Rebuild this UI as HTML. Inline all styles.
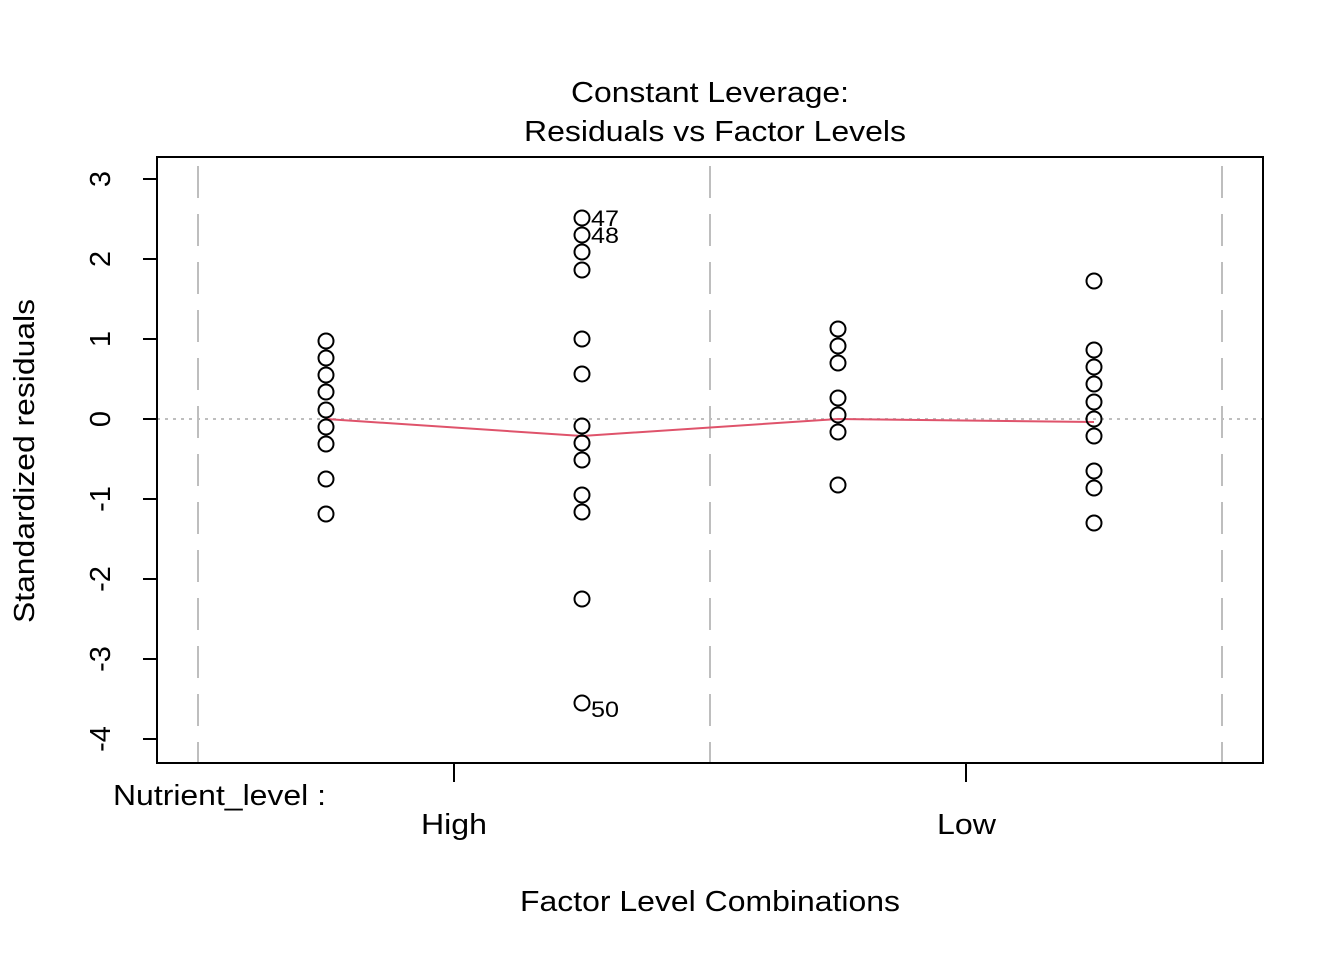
<!DOCTYPE html>
<html><head><style>body{margin:0;background:#fff}svg{display:block}text{font-family:"Liberation Sans",Arial,sans-serif;fill:#000}</style></head>
<body>
<svg width="1344" height="960" viewBox="0 0 1344 960" xmlns="http://www.w3.org/2000/svg">
<text x="571" y="102" font-size="29" textLength="278" lengthAdjust="spacingAndGlyphs">Constant Leverage:</text>
<text x="524" y="141" font-size="29" textLength="382" lengthAdjust="spacingAndGlyphs">Residuals vs Factor Levels</text>
<g stroke="#bebebe" stroke-width="2" stroke-dasharray="32,16">
<line x1="198" y1="166" x2="198" y2="763"/><line x1="710" y1="166" x2="710" y2="763"/><line x1="1222" y1="166" x2="1222" y2="763"/>
</g>
<line x1="157" y1="419" x2="1263" y2="419" stroke="#bebebe" stroke-width="2" stroke-dasharray="3,5"/>
<rect x="157" y="157" width="1106" height="606" fill="none" stroke="#000" stroke-width="2"/>
<g stroke="#000" stroke-width="2">
<line x1="143" y1="179" x2="157" y2="179"/><line x1="143" y1="259" x2="157" y2="259"/><line x1="143" y1="339" x2="157" y2="339"/><line x1="143" y1="419" x2="157" y2="419"/><line x1="143" y1="499" x2="157" y2="499"/><line x1="143" y1="579" x2="157" y2="579"/><line x1="143" y1="659" x2="157" y2="659"/><line x1="143" y1="739" x2="157" y2="739"/>
<line x1="454" y1="763" x2="454" y2="782"/><line x1="966" y1="763" x2="966" y2="782"/>
</g>
<g font-size="29" text-anchor="middle">
<text transform="translate(110,179) rotate(-90)">3</text>
<text transform="translate(110,259) rotate(-90)">2</text>
<text transform="translate(110,339) rotate(-90)">1</text>
<text transform="translate(110,419) rotate(-90)">0</text>
<text transform="translate(110,499) rotate(-90)">-1</text>
<text transform="translate(110,579) rotate(-90)">-2</text>
<text transform="translate(110,659) rotate(-90)">-3</text>
<text transform="translate(110,739) rotate(-90)">-4</text>
</g>
<g font-size="29">
<text transform="translate(34,623) rotate(-90)" textLength="324" lengthAdjust="spacingAndGlyphs">Standardized residuals</text>
<text x="421" y="834" textLength="66" lengthAdjust="spacingAndGlyphs">High</text>
<text x="937" y="834" textLength="59" lengthAdjust="spacingAndGlyphs">Low</text>
<text x="520" y="911" textLength="380" lengthAdjust="spacingAndGlyphs">Factor Level Combinations</text>
<text x="113" y="805" textLength="213" lengthAdjust="spacingAndGlyphs">Nutrient_level :</text>
</g>
<polyline points="326,419 582,436 838,419 1094,422" fill="none" stroke="#DF536B" stroke-width="2"/>
<g fill="none" stroke="#000" stroke-width="2">
<circle cx="326" cy="341" r="7.5"/><circle cx="326" cy="358" r="7.5"/><circle cx="326" cy="375" r="7.5"/><circle cx="326" cy="392" r="7.5"/><circle cx="326" cy="410" r="7.5"/><circle cx="326" cy="427" r="7.5"/><circle cx="326" cy="444" r="7.5"/><circle cx="326" cy="479" r="7.5"/><circle cx="326" cy="514" r="7.5"/>
<circle cx="582" cy="218" r="7.5"/><circle cx="582" cy="235" r="7.5"/><circle cx="582" cy="252" r="7.5"/><circle cx="582" cy="270" r="7.5"/><circle cx="582" cy="339" r="7.5"/><circle cx="582" cy="374" r="7.5"/><circle cx="582" cy="426" r="7.5"/><circle cx="582" cy="443" r="7.5"/><circle cx="582" cy="460" r="7.5"/><circle cx="582" cy="495" r="7.5"/><circle cx="582" cy="512" r="7.5"/><circle cx="582" cy="599" r="7.5"/><circle cx="582" cy="703" r="7.5"/>
<circle cx="838" cy="329" r="7.5"/><circle cx="838" cy="346" r="7.5"/><circle cx="838" cy="363" r="7.5"/><circle cx="838" cy="398" r="7.5"/><circle cx="838" cy="415" r="7.5"/><circle cx="838" cy="432" r="7.5"/><circle cx="838" cy="485" r="7.5"/>
<circle cx="1094" cy="281" r="7.5"/><circle cx="1094" cy="350" r="7.5"/><circle cx="1094" cy="367" r="7.5"/><circle cx="1094" cy="384" r="7.5"/><circle cx="1094" cy="402" r="7.5"/><circle cx="1094" cy="419" r="7.5"/><circle cx="1094" cy="436" r="7.5"/><circle cx="1094" cy="471" r="7.5"/><circle cx="1094" cy="488" r="7.5"/><circle cx="1094" cy="523" r="7.5"/>
</g>
<g font-size="22">
<text x="591" y="226" textLength="28" lengthAdjust="spacingAndGlyphs">47</text>
<text x="591" y="243" textLength="28" lengthAdjust="spacingAndGlyphs">48</text>
<text x="591" y="717" textLength="28" lengthAdjust="spacingAndGlyphs">50</text>
</g>
</svg>
</body></html>
